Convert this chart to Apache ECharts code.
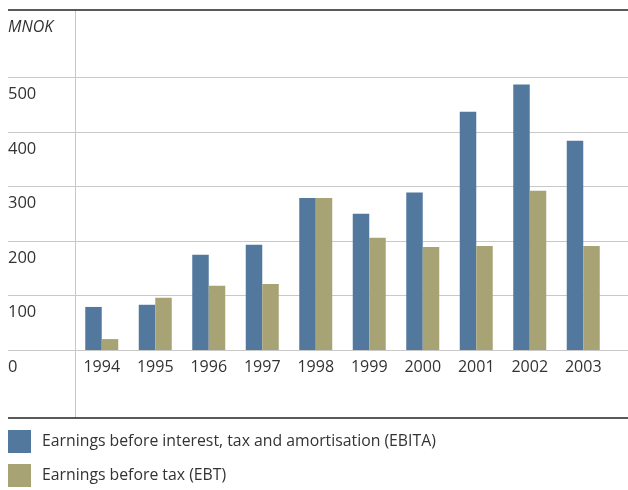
<!DOCTYPE html>
<html><head><meta charset="utf-8">
<script src="https://cdn.jsdelivr.net/npm/echarts@6/dist/echarts.min.js"></script>
<style>html,body{margin:0;padding:0;background:#fff}#c{width:628px;height:490px}</style>
</head><body><div id="c"></div>
<script>
const years = ['1994','1995','1996','1997','1998','1999','2000','2001','2002','2003'];
const ebita = [79, 83, 175, 193, 279, 250, 289, 437, 487, 384];
const ebt = [20, 96, 118, 121, 279, 206, 189, 191, 292, 191];
const seriesNames = ['Earnings before interest, tax and amortisation (EBITA)', 'Earnings before tax (EBT)'];
const yTicks = {min: 0, max: 500, interval: 100};
const unitLabel = 'MNOK';

const font = 'Open Sans';
const chart = echarts.init(document.getElementById('c'), null, {renderer: 'canvas'});
chart.setOption({
  animation: false,
  textStyle: {fontFamily: font},
  grid: [
    {left: 75, right: 18, top: 77.5, bottom: 140},
    {left: 8, right: 0, top: 77.5, bottom: 140}
  ],
  xAxis: [
    {gridIndex: 0, type: 'category', data: years,
     axisLine: {show: false}, axisTick: {show: false},
     axisLabel: {color: '#333', fontSize: 16, margin: 9, fontFamily: font}},
    {gridIndex: 1, type: 'value', show: false}
  ],
  yAxis: [
    {gridIndex: 0, type: 'value', min: yTicks.min, max: yTicks.max, interval: yTicks.interval, show: false},
    {gridIndex: 1, type: 'value', min: yTicks.min, max: yTicks.max, interval: yTicks.interval,
     name: unitLabel, nameLocation: 'end', nameGap: 42,
     nameTextStyle: {align: 'left', fontStyle: 'italic', color: '#333', fontSize: 16, fontFamily: font},
     axisLine: {show: false}, axisTick: {show: false},
     splitLine: {show: true, lineStyle: {color: '#c8c8c8', width: 1.2}},
     axisLabel: {inside: true, align: 'left', margin: 0, verticalAlign: 'top', padding: [9, 0, 0, 0],
                 lineHeight: 16, color: '#333', fontSize: 16.5, fontFamily: font}}
  ],
  legend: {
    orient: 'vertical', left: 8, top: 430, itemWidth: 23, itemHeight: 23, itemGap: 11,
    padding: 0, icon: 'rect',
    textStyle: {color: '#333', fontSize: 15.8, fontFamily: font, padding: [0, 0, 0, 6]},
    data: seriesNames
  },
  graphic: [
    {type: 'line', shape: {x1: 8, y1: 10, x2: 628, y2: 10}, style: {stroke: '#222', lineWidth: 1.6}, z: 10},
    {type: 'line', shape: {x1: 8, y1: 418, x2: 628, y2: 418}, style: {stroke: '#222', lineWidth: 1.6}, z: 10},
    {type: 'line', shape: {x1: 75.5, y1: 10, x2: 75.5, y2: 418}, style: {stroke: '#c8c8c8', lineWidth: 1}, z: 1}
  ],
  series: [
    {name: seriesNames[0], type: 'bar', xAxisIndex: 0, yAxisIndex: 0, data: ebita,
     barWidth: 16.5, barGap: '0%', itemStyle: {color: '#52789e'}},
    {name: seriesNames[1], type: 'bar', xAxisIndex: 0, yAxisIndex: 0, data: ebt,
     barWidth: 16.5, barGap: '0%', itemStyle: {color: '#a8a374'}}
  ]
});
</script></body></html>
